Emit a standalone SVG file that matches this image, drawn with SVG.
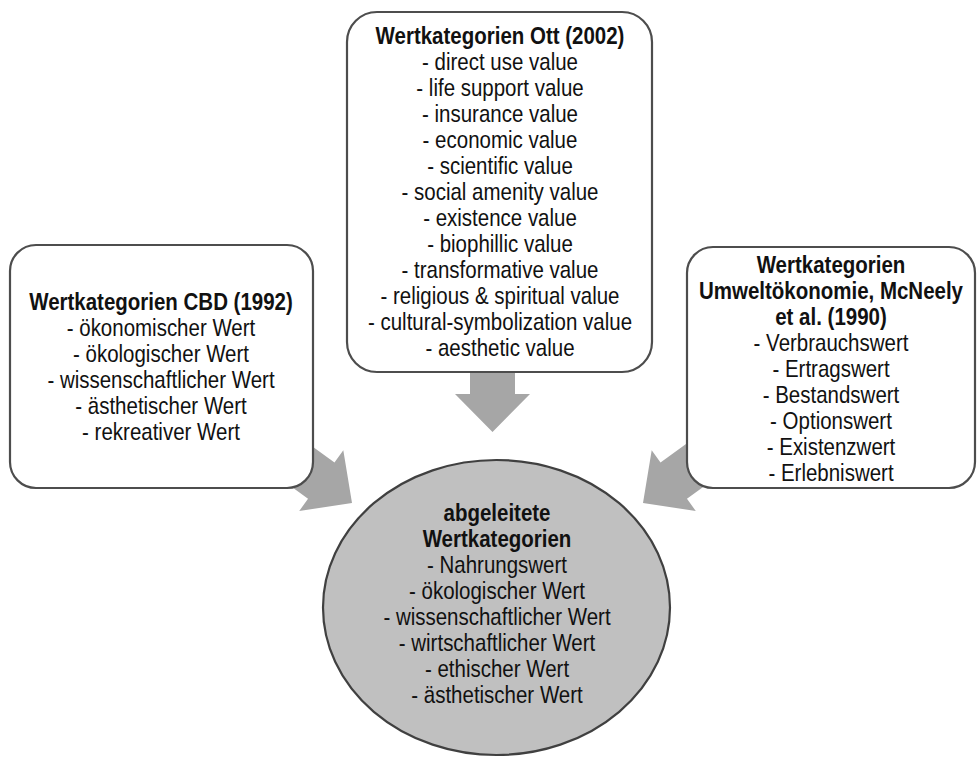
<svg xmlns="http://www.w3.org/2000/svg" width="977" height="758" viewBox="0 0 977 758">
<style>
.box{fill:#ffffff;stroke:#4d4d4d;stroke-width:2.2}
.circ{fill:#c0c0c0;stroke:#404040;stroke-width:2.2}
.arr{fill:#a6a6a6;stroke:none}
text{font-family:"Liberation Sans",Arial,sans-serif;font-size:24px;fill:#111;text-anchor:middle}
.b{font-weight:bold}
</style>
<defs>
<polygon id="arrowShape" points="0,0 -38,-37.5 -38,-22.5 -110,-22.5 -110,22.5 -38,22.5 -38,37.5"/>
</defs>
<g id="connectors">
<use href="#arrowShape" class="arr" transform="translate(492.5,432) rotate(90)"/>
<use href="#arrowShape" class="arr" transform="translate(352,503) rotate(36)"/>
<use href="#arrowShape" class="arr" transform="translate(643,503) rotate(144)"/>
</g>
<g id="node-ott">
<rect class="box" x="347" y="12" width="305" height="360" rx="30" ry="30"/>
<g transform="translate(500 0) scale(0.854 1)">
<text x="0" y="44" class="b">Wertkategorien Ott (2002)</text>
<text x="0" y="70">- direct use value</text>
<text x="0" y="96">- life support value</text>
<text x="0" y="122">- insurance value</text>
<text x="0" y="148">- economic value</text>
<text x="0" y="174">- scientific value</text>
<text x="0" y="200">- social amenity value</text>
<text x="0" y="226">- existence value</text>
<text x="0" y="252">- biophillic value</text>
<text x="0" y="278">- transformative value</text>
<text x="0" y="304">- religious &amp; spiritual value</text>
<text x="0" y="330">- cultural-symbolization value</text>
<text x="0" y="356">- aesthetic value</text>
</g>
</g>
<g id="node-cbd">
<rect class="box" x="10" y="245" width="303" height="243" rx="26" ry="26"/>
<g transform="translate(161 0) scale(0.854 1)">
<text x="0" y="310" class="b">Wertkategorien CBD (1992)</text>
<text x="0" y="336">- ökonomischer Wert</text>
<text x="0" y="362">- ökologischer Wert</text>
<text x="0" y="388">- wissenschaftlicher Wert</text>
<text x="0" y="414">- ästhetischer Wert</text>
<text x="0" y="440">- rekreativer Wert</text>
</g>
</g>
<g id="node-mcneely">
<rect class="box" x="687" y="247" width="288" height="241" rx="26" ry="26"/>
<g transform="translate(831 0) scale(0.854 1)">
<text x="0" y="273" class="b">Wertkategorien</text>
<text x="0" y="299" class="b">Umweltökonomie, McNeely</text>
<text x="0" y="325" class="b">et al. (1990)</text>
<text x="0" y="351">- Verbrauchswert</text>
<text x="0" y="377">- Ertragswert</text>
<text x="0" y="403">- Bestandswert</text>
<text x="0" y="429">- Optionswert</text>
<text x="0" y="455">- Existenzwert</text>
<text x="0" y="481">- Erlebniswert</text>
</g>
</g>
<g id="node-abgeleitet">
<ellipse class="circ" cx="496.5" cy="607.5" rx="173.5" ry="147.5"/>
<g transform="translate(497 0) scale(0.854 1)">
<text x="0" y="521" class="b">abgeleitete</text>
<text x="0" y="547" class="b">Wertkategorien</text>
<text x="0" y="573">- Nahrungswert</text>
<text x="0" y="599">- ökologischer Wert</text>
<text x="0" y="625">- wissenschaftlicher Wert</text>
<text x="0" y="651">- wirtschaftlicher Wert</text>
<text x="0" y="677">- ethischer Wert</text>
<text x="0" y="703">- ästhetischer Wert</text>
</g>
</g>
</svg>
